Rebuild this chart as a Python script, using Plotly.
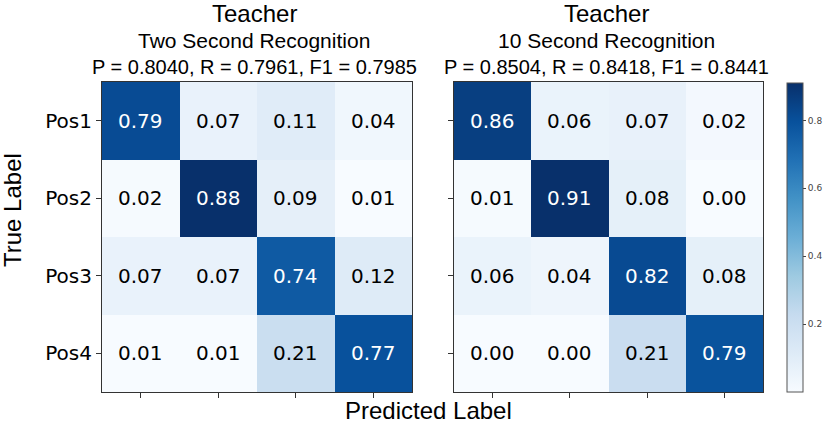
import plotly.graph_objects as go

labels = ["Pos1", "Pos2", "Pos3", "Pos4"]
left_vals = [
    [0.79, 0.07, 0.11, 0.04],
    [0.02, 0.88, 0.09, 0.01],
    [0.07, 0.07, 0.74, 0.12],
    [0.01, 0.01, 0.21, 0.77],
]
right_vals = [
    [0.86, 0.06, 0.07, 0.02],
    [0.01, 0.91, 0.08, 0.00],
    [0.06, 0.04, 0.82, 0.08],
    [0.00, 0.00, 0.21, 0.79],
]
titles_main = ["Teacher", "Teacher"]
titles_sub = ["Two Second Recognition", "10 Second Recognition"]
titles_metrics = ["P = 0.8040, R = 0.7961, F1 = 0.7985",
                  "P = 0.8504, R = 0.8418, F1 = 0.8441"]
cbar_ticks = [0.2, 0.4, 0.6, 0.8]

W, H = 830, 423
def px(x):
    return x / W
def py(y):
    return (H - y) / H

dom1 = [px(102), px(412)]
dom2 = [px(454), px(763)]
ydom = [py(392), py(82)]

idx = list(range(len(labels)))
fig = go.Figure()

def add_heat(vals, xa, ya, showscale):
    flat = [v for r in vals for v in r]
    zmin, zmax = min(flat), max(flat)
    kw = {}
    if showscale:
        kw["colorbar"] = dict(
            x=px(787), xanchor="left", y=py(237.5), yanchor="middle",
            xpad=0, ypad=0,
            thickness=16, thicknessmode="pixels",
            len=309, lenmode="pixels",
            outlinewidth=1, outlinecolor="#555",
            tickvals=cbar_ticks, ticktext=[f"{t:.1f}" for t in cbar_ticks],
            ticks="outside", ticklen=3, tickcolor="#444",
            tickfont=dict(family="DejaVu Sans", size=9, color="#444"),
        )
    fig.add_trace(go.Heatmap(
        z=vals, x=idx, y=idx, colorscale="Blues", zmin=zmin, zmax=zmax,
        showscale=showscale, xaxis=xa, yaxis=ya, hoverinfo="skip", **kw))
    thresh = (zmin + zmax) / 2
    for i, row in enumerate(vals):
        for j, v in enumerate(row):
            fig.add_annotation(
                x=j, y=i, xref=xa, yref=ya, text=f"{v:.2f}", showarrow=False,
                font=dict(family="DejaVu Sans", size=20,
                          color="white" if v > thresh else "black"))

add_heat(left_vals, "x", "y", False)
add_heat(right_vals, "x2", "y2", True)

axis_common = dict(showgrid=False, zeroline=False, showline=True, mirror=True,
                   linecolor="#333", linewidth=1, ticks="outside", ticklen=5,
                   tickcolor="#333", tickvals=idx, range=[-0.5, 3.5])
fig.update_layout(
    width=W, height=H, margin=dict(l=0, r=0, t=0, b=0, autoexpand=False),
    paper_bgcolor="white", plot_bgcolor="white", showlegend=False,
    xaxis=dict(domain=dom1, anchor="y", showticklabels=False, **axis_common),
    yaxis=dict(domain=ydom, anchor="x", ticktext=labels, showticklabels=True,
               tickfont=dict(family="DejaVu Sans", size=20, color="black"),
               autorange=False, **{**axis_common, "range": [3.5, -0.5]}),
    xaxis2=dict(domain=dom2, anchor="y2", showticklabels=False, **axis_common),
    yaxis2=dict(domain=ydom, anchor="x2", showticklabels=False,
                **{**axis_common, "range": [3.5, -0.5]}),
)

title_font = "Liberation Sans"
centers = [px(254), px(606)]
for k, cx in enumerate(centers):
    fig.add_annotation(x=cx, y=py(13), xref="paper", yref="paper", text=titles_main[k],
                       showarrow=False, xanchor="center", yanchor="middle",
                       font=dict(family=title_font, size=24, color="black"))
    fig.add_annotation(x=cx, y=py(40), xref="paper", yref="paper", text=titles_sub[k],
                       showarrow=False, xanchor="center", yanchor="middle",
                       font=dict(family=title_font, size=21, color="black"))
    fig.add_annotation(x=cx, y=py(67), xref="paper", yref="paper", text=titles_metrics[k],
                       showarrow=False, xanchor="center", yanchor="middle",
                       font=dict(family=title_font, size=20, color="black"))

fig.add_annotation(x=px(428), y=py(410), xref="paper", yref="paper", text="Predicted Label",
                   showarrow=False, xanchor="center", yanchor="middle",
                   font=dict(family=title_font, size=24, color="black"))
fig.add_annotation(x=px(12), y=py(210), xref="paper", yref="paper", text="True Label",
                   showarrow=False, textangle=-90, xanchor="center", yanchor="middle",
                   font=dict(family=title_font, size=24, color="black"))

fig.write_html("out.html", config={"displayModeBar": False},
               post_script="document.body.style.margin='0px';")
